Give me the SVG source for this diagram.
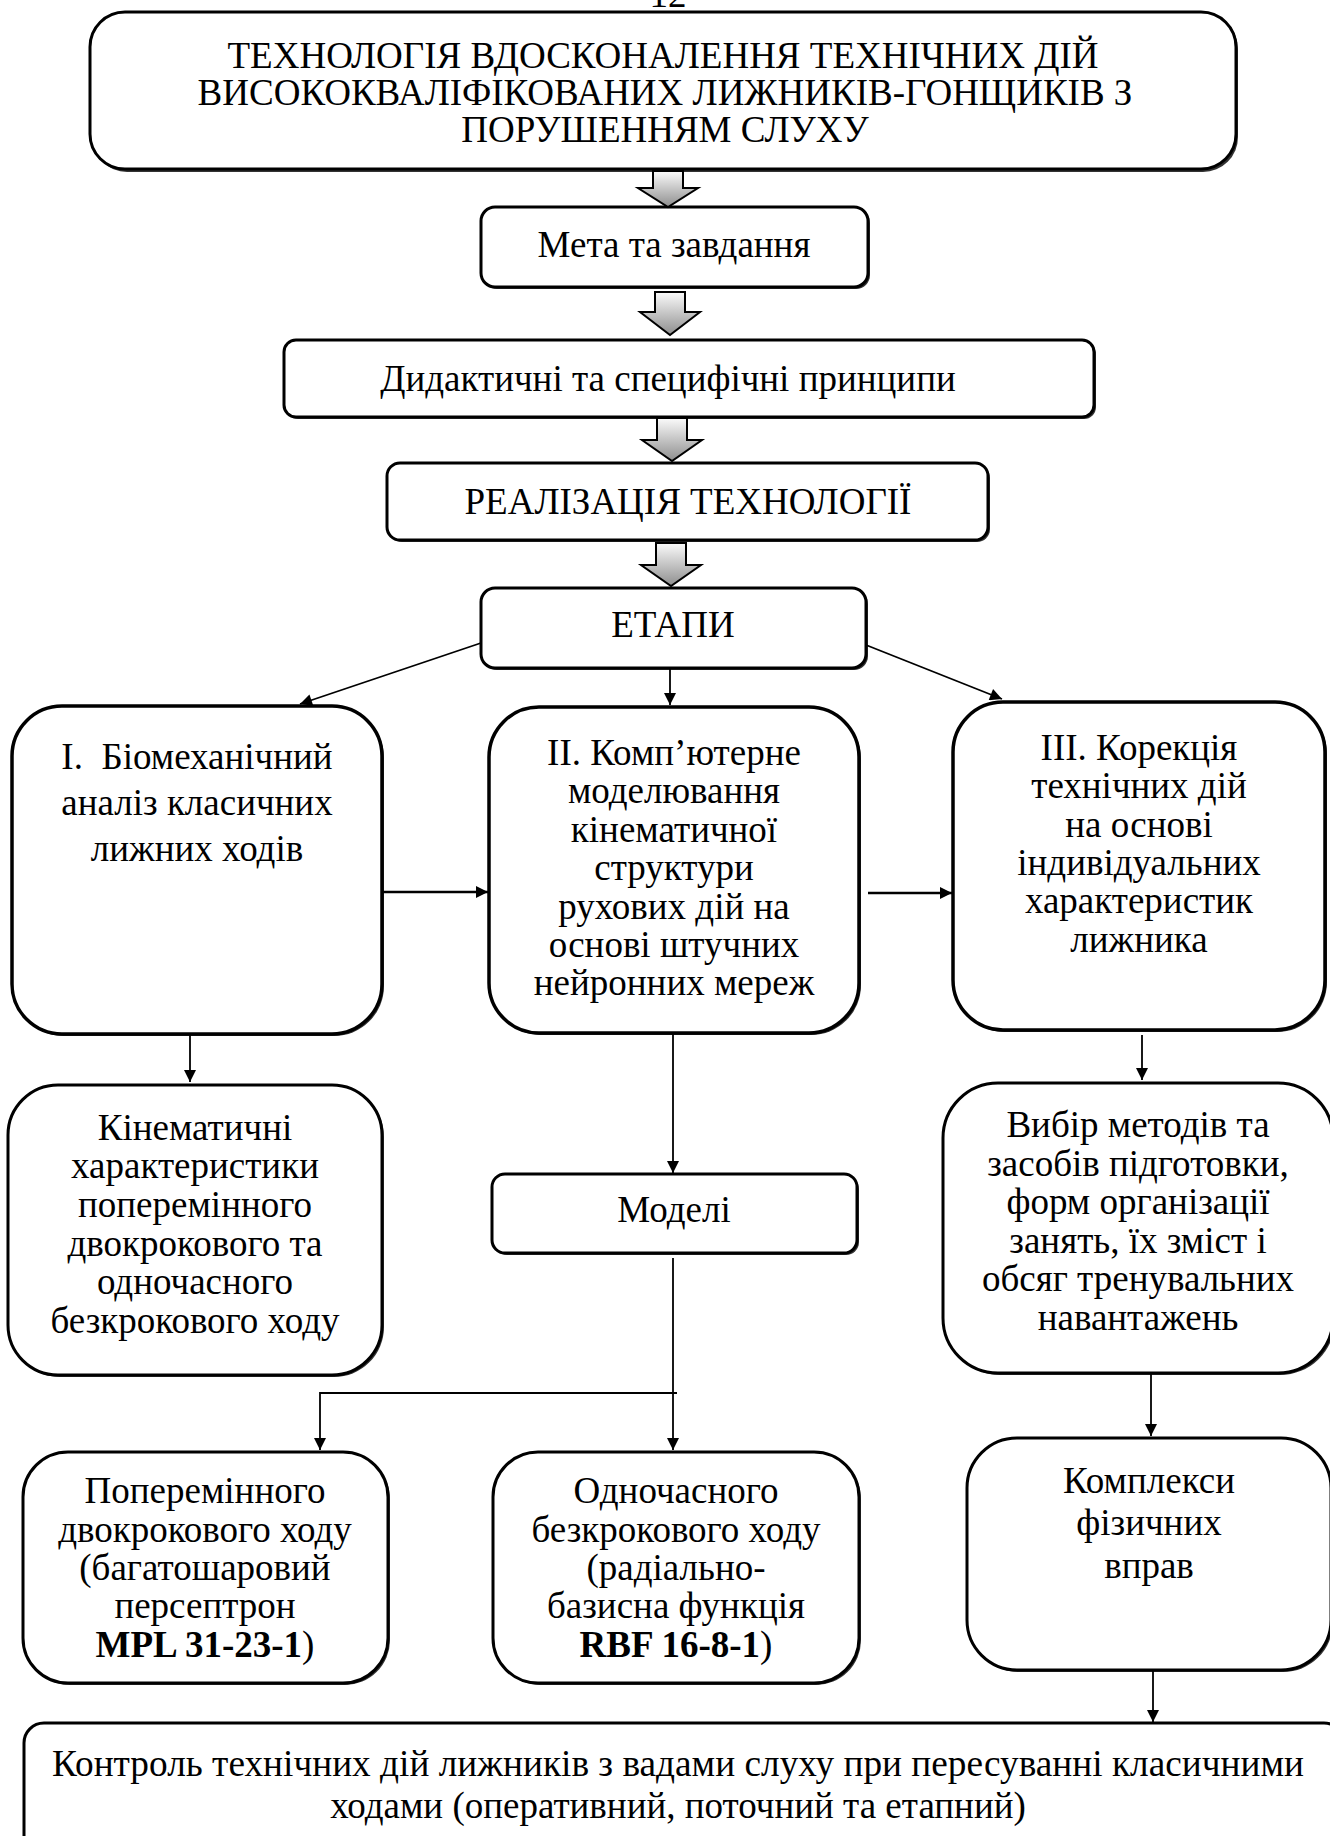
<svg xmlns="http://www.w3.org/2000/svg" width="1330" height="1836" viewBox="0 0 1330 1836">
<style>
  text { font-family: "Liberation Serif", "Times New Roman", serif; font-size: 37px; fill: #000; text-anchor: middle; }
  .box { fill: #fff; stroke: #000; stroke-width: 3; }
  .thick { stroke-width: 3.5; }
  .shadow { fill: #333; stroke: none; }
  .conn { stroke: #000; stroke-width: 1.8; fill: none; }
  .conn2 { stroke: #000; stroke-width: 2.5; fill: none; }
  .block { fill: url(#ag); stroke: #000; stroke-width: 2; stroke-linejoin: miter; }
  .b { font-weight: bold; }
</style>
<defs>
  <linearGradient id="ag" x1="0" y1="0" x2="0" y2="1">
    <stop offset="0" stop-color="#fbfbfb"/>
    <stop offset="1" stop-color="#8e8e8e"/>
  </linearGradient>
  <marker id="ah" viewBox="0 0 10 10" refX="10" refY="5" markerWidth="16" markerHeight="12" markerUnits="userSpaceOnUse" orient="auto">
    <path d="M0,0 L10,5 L0,10 Z" fill="#000"/>
  </marker>
</defs>

<text x="668" y="7">12</text>

<g id="n-title">
  <rect class="shadow" x="92" y="14" width="1146" height="158" rx="35"/>
  <rect class="box" x="90" y="12" width="1146" height="157" rx="35"/>
  <text x="663" y="68">ТЕХНОЛОГІЯ ВДОСКОНАЛЕННЯ ТЕХНІЧНИХ ДІЙ</text>
  <text x="665" y="105">ВИСОКОКВАЛІФІКОВАНИХ ЛИЖНИКІВ-ГОНЩИКІВ З</text>
  <text x="665" y="142">ПОРУШЕННЯМ СЛУХУ</text>
</g>

<g id="n-meta">
  <rect class="shadow" x="483" y="209" width="387" height="80" rx="14"/>
  <rect class="box" x="481" y="207" width="387" height="80" rx="14"/>
  <text x="674" y="257">Мета та завдання</text>
</g>

<g id="n-pryntsypy">
  <rect class="shadow" x="286" y="342" width="810" height="77" rx="12"/>
  <rect class="box" x="284" y="340" width="810" height="77" rx="12"/>
  <text x="668" y="391">Дидактичні та специфічні принципи</text>
</g>

<g id="n-realizatsiia">
  <rect class="shadow" x="389" y="465" width="601" height="77" rx="13"/>
  <rect class="box" x="387" y="463" width="601" height="77" rx="13"/>
  <text x="688" y="514">РЕАЛІЗАЦІЯ ТЕХНОЛОГІЇ</text>
</g>

<g id="n-etapy">
  <rect class="shadow" x="483" y="590" width="385" height="80" rx="14"/>
  <rect class="box" x="481" y="588" width="385" height="80" rx="14"/>
  <text x="673" y="637">ЕТАПИ</text>
</g>

<g id="n-stage1">
  <rect class="shadow" x="14" y="708" width="370" height="328" rx="50"/>
  <rect class="box thick" x="12" y="706" width="370" height="328" rx="50"/>
  <text x="197" y="769">I.&#160; Біомеханічний</text>
  <text x="197" y="815">аналіз класичних</text>
  <text x="197" y="861">лижних ходів</text>
</g>

<g id="n-stage2">
  <rect class="shadow" x="491" y="709" width="370" height="326" rx="50"/>
  <rect class="box thick" x="489" y="707" width="370" height="326" rx="50"/>
  <text x="674" y="765">II. Комп’ютерне</text>
  <text x="674" y="803">моделювання</text>
  <text x="674" y="842">кінематичної</text>
  <text x="674" y="880">структури</text>
  <text x="674" y="919">рухових дій на</text>
  <text x="674" y="957">основі штучних</text>
  <text x="674" y="995">нейронних мереж</text>
</g>

<g id="n-stage3">
  <rect class="shadow" x="955" y="704" width="372" height="328" rx="50"/>
  <rect class="box thick" x="953" y="702" width="372" height="328" rx="50"/>
  <text x="1139" y="760">III. Корекція</text>
  <text x="1139" y="798">технічних дій</text>
  <text x="1139" y="837">на основі</text>
  <text x="1139" y="875">індивідуальних</text>
  <text x="1139" y="913">характеристик</text>
  <text x="1139" y="952">лижника</text>
</g>

<g id="n-kinematychni">
  <rect class="shadow" x="10" y="1087" width="374" height="290" rx="50"/>
  <rect class="box" x="8" y="1085" width="374" height="290" rx="50"/>
  <text x="195" y="1140">Кінематичні</text>
  <text x="195" y="1178">характеристики</text>
  <text x="195" y="1217">поперемінного</text>
  <text x="195" y="1256">двокрокового та</text>
  <text x="195" y="1294">одночасного</text>
  <text x="195" y="1333">безкрокового ходу</text>
</g>

<g id="n-modeli">
  <rect class="shadow" x="494" y="1176" width="365" height="79" rx="13"/>
  <rect class="box" x="492" y="1174" width="365" height="79" rx="13"/>
  <text x="674" y="1222">Моделі</text>
</g>

<g id="n-vybir">
  <rect class="shadow" x="945" y="1085" width="390" height="290" rx="55"/>
  <rect class="box" x="943" y="1083" width="390" height="290" rx="55"/>
  <text x="1138" y="1137">Вибір методів та</text>
  <text x="1138" y="1176">засобів підготовки,</text>
  <text x="1138" y="1214">форм організації</text>
  <text x="1138" y="1253">занять, їх зміст і</text>
  <text x="1138" y="1291">обсяг тренувальних</text>
  <text x="1138" y="1330">навантажень</text>
</g>

<g id="n-popereminnoho">
  <rect class="shadow" x="25" y="1454" width="365" height="231" rx="45"/>
  <rect class="box" x="23" y="1452" width="365" height="231" rx="45"/>
  <text x="205" y="1503">Поперемінного</text>
  <text x="205" y="1542">двокрокового ходу</text>
  <text x="205" y="1580">(багатошаровий</text>
  <text x="205" y="1618">персептрон</text>
  <text x="205" y="1657"><tspan class="b">MPL 31-23-1</tspan>)</text>
</g>

<g id="n-odnochasnoho">
  <rect class="shadow" x="495" y="1454" width="366" height="231" rx="45"/>
  <rect class="box" x="493" y="1452" width="366" height="231" rx="45"/>
  <text x="676" y="1503">Одночасного</text>
  <text x="676" y="1542">безкрокового ходу</text>
  <text x="676" y="1580">(радіально-</text>
  <text x="676" y="1618">базисна функція</text>
  <text x="676" y="1657"><tspan class="b">RBF 16-8-1</tspan>)</text>
</g>

<g id="n-kompleksy">
  <rect class="shadow" x="969" y="1440" width="364" height="232" rx="50"/>
  <rect class="box" x="967" y="1438" width="364" height="232" rx="50"/>
  <text x="1149" y="1493">Комплекси</text>
  <text x="1149" y="1535">фізичних</text>
  <text x="1149" y="1578">вправ</text>
</g>

<g id="n-kontrol">
  <rect class="shadow" x="26" y="1725" width="1320" height="140" rx="20"/>
  <rect class="box" x="24" y="1723" width="1320" height="140" rx="20"/>
  <text x="678" y="1776" textLength="1252" lengthAdjust="spacingAndGlyphs">Контроль технічних дій лижників з вадами слуху при пересуванні класичними</text>
  <text x="678" y="1818">ходами (оперативний, поточний та етапний)</text>
</g>

<g id="connectors">
  <path class="block" d="M653,171 H683 V188 H698 L668,207 L638,188 H653 Z"/>
  <path class="block" d="M655,292 H685 V312 H700 L670,335 L640,312 H655 Z"/>
  <path class="block" d="M657,418 H687 V440 H702 L672,461 L642,440 H657 Z"/>
  <path class="block" d="M656,543 H686 V565 H701 L671,586 L641,565 H656 Z"/>

  <line class="conn" x1="481" y1="643" x2="300" y2="704" marker-end="url(#ah)"/>
  <line class="conn" x1="670" y1="668" x2="670" y2="705" marker-end="url(#ah)"/>
  <line class="conn" x1="866" y1="645" x2="1002" y2="699" marker-end="url(#ah)"/>

  <line class="conn2" x1="382" y1="892" x2="488" y2="892" marker-end="url(#ah)"/>
  <line class="conn2" x1="868" y1="893" x2="952" y2="893" marker-end="url(#ah)"/>

  <line class="conn" x1="190" y1="1035" x2="190" y2="1082" marker-end="url(#ah)"/>
  <line class="conn" x1="673" y1="1033" x2="673" y2="1173" marker-end="url(#ah)"/>
  <line class="conn" x1="1142" y1="1035" x2="1142" y2="1080" marker-end="url(#ah)"/>

  <line class="conn" x1="673" y1="1258" x2="673" y2="1450" marker-end="url(#ah)"/>
  <path class="conn" d="M677,1393 H320 V1450" marker-end="url(#ah)"/>

  <line class="conn" x1="1151" y1="1373" x2="1151" y2="1436" marker-end="url(#ah)"/>
  <line class="conn" x1="1153" y1="1670" x2="1153" y2="1722" marker-end="url(#ah)"/>
</g>
</svg>
